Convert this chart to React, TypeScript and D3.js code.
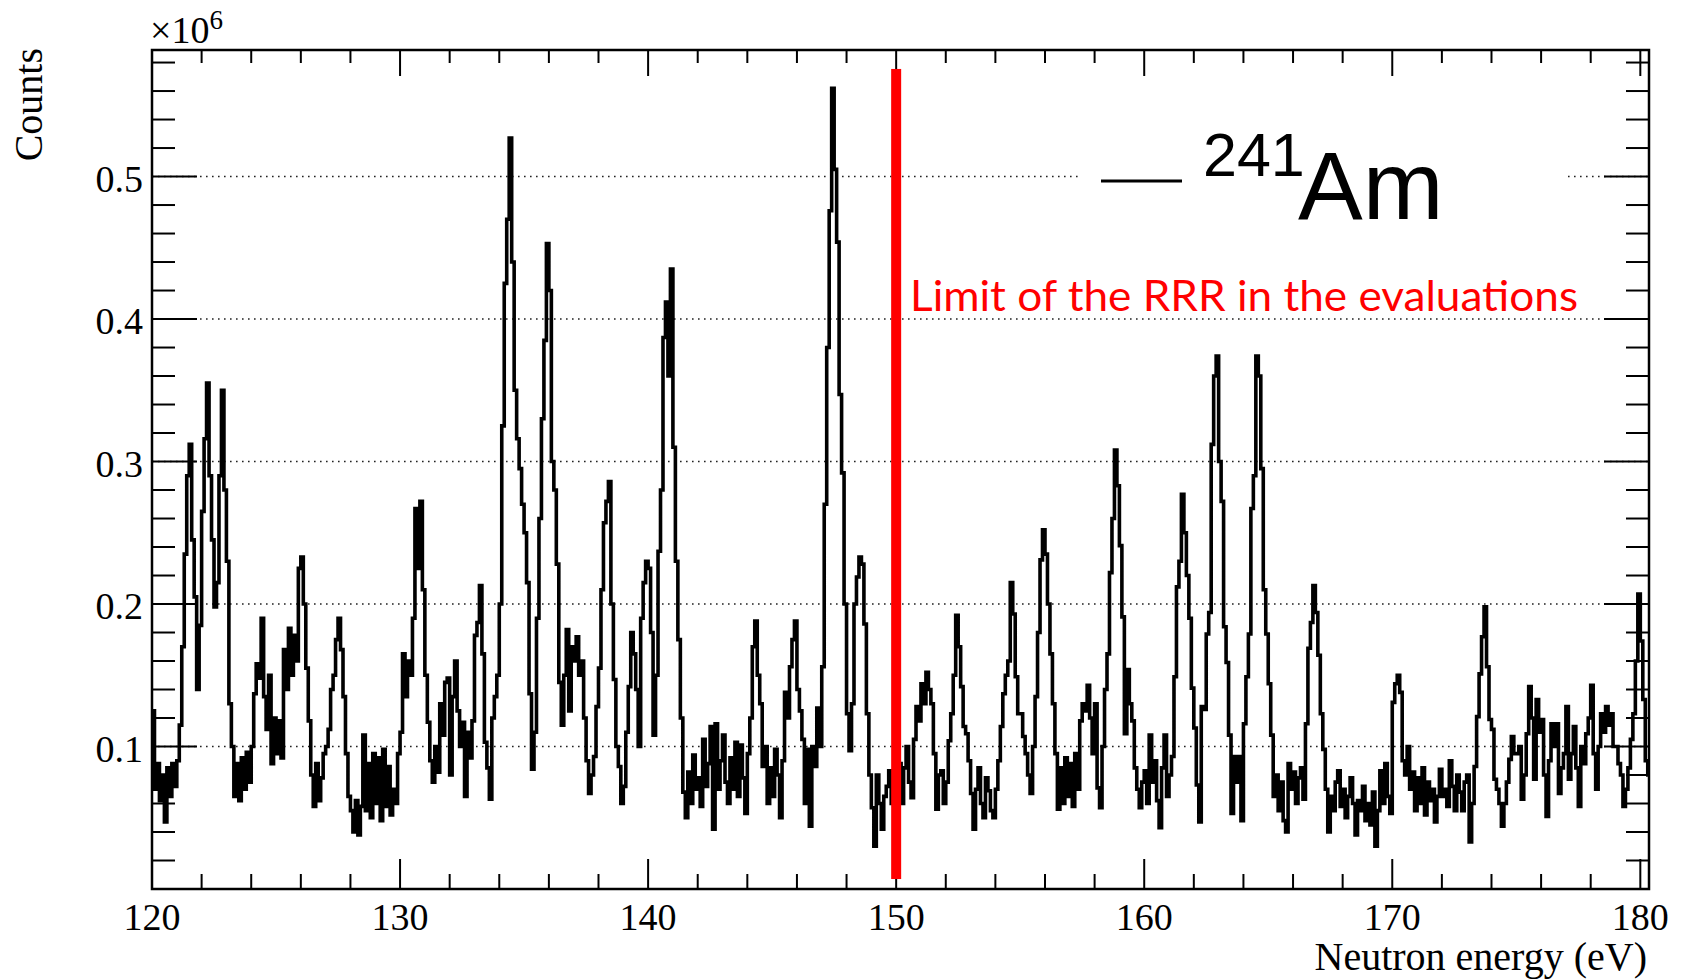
import React from "react";
import * as d3 from "d3";

// Histogram: neutron energy bins of 0.1 eV starting at 120 eV; counts in thousands
const E_START = 120;
const BIN_WIDTH = 0.1;

const counts120 = [
  125, 70, 88, 62, 80, 47, 85, 65, 88, 72,
  90, 115, 170, 235, 290, 312, 245, 205, 140, 185,
  265, 316, 355, 290, 245, 198, 215, 290, 350, 280,
  230, 130, 100, 65, 88, 62, 92, 70, 96, 75,
  100, 137, 158, 148, 190, 135, 112, 150, 88, 120,
  95, 118, 92, 168, 140, 183, 150, 178, 160, 225,
  233, 200, 155, 118, 80, 58, 88, 62, 78, 95,
  100, 112, 140, 150, 175, 190, 168, 135, 95, 65,
  55, 40, 62, 38, 58, 108, 55, 88, 50, 95,
  60, 92, 48, 98, 58, 86, 52, 70, 60, 95,
];
const counts130 = [
  110, 165, 135, 160, 150, 190, 267, 225, 272, 210,
  150, 117, 90, 75, 100, 82, 130, 108, 145, 148,
  80, 135, 160, 125, 100, 117, 65, 110, 92, 118,
  178, 187, 213, 165, 103, 85, 63, 120, 135, 150,
  200, 325, 425, 470, 527, 440, 350, 316, 295, 270,
  250, 215, 137, 84, 110, 190, 260, 330, 385, 453,
  420, 300, 280, 228, 145, 115, 150, 182, 125, 170,
  160, 177, 150, 160, 120, 90, 67, 80, 93, 128,
  155, 210, 257, 272, 286, 200, 147, 100, 86, 60,
  72, 110, 142, 180, 165, 140, 100, 190, 215, 230,
];
const counts140 = [
  225, 180, 108, 150, 237, 280, 387, 412, 360, 435,
  310, 230, 175, 120, 68, 50, 82, 60, 94, 70,
  78, 58, 105, 72, 88, 114, 42, 116, 70, 90,
  108, 75, 60, 92, 70, 103, 65, 101, 78, 53,
  95, 120, 170, 188, 150, 130, 86, 100, 60, 85,
  65, 98, 80, 50, 90, 138, 120, 156, 175, 188,
  140, 125, 105, 60, 98, 44, 100, 86, 127, 100,
  156, 270, 380, 476, 562, 505, 454, 347, 292, 200,
  123, 97, 130, 200, 219, 233, 228, 186, 123, 80,
  57, 30, 80, 60, 42, 65, 72, 83, 60, 75,
];
const counts150 = [
  70, 88, 60, 85, 100, 75, 64, 105, 128, 118,
  144, 130, 152, 140, 130, 95, 56, 80, 83, 60,
  75, 104, 123, 150, 192, 170, 142, 114, 109, 90,
  67, 42, 70, 85, 60, 50, 78, 69, 55, 50,
  70, 90, 114, 137, 150, 160, 215, 193, 149, 123,
  123, 107, 95, 80, 67, 100, 135, 180, 231, 252,
  235, 200, 165, 130, 95, 56, 85, 60, 92, 65,
  88, 58, 95, 70, 118, 130, 125, 143, 120, 95,
  130, 71, 57, 100, 140, 165, 222, 260, 308, 283,
  241, 191, 109, 154, 130, 118, 85, 70, 57, 75,
];
const counts160 = [
  83, 60, 108, 75, 90, 62, 43, 85, 108, 65,
  80, 93, 149, 212, 230, 277, 250, 220, 190, 141,
  113, 73, 47, 128, 126, 179, 194, 312, 360, 374,
  300, 272, 184, 159, 108, 53, 93, 75, 93, 48,
  116, 149, 179, 267, 290, 374, 360, 295, 210, 179,
  144, 108, 65, 80, 55, 75, 48, 40, 88, 70,
  82, 60, 78, 85, 63, 116, 169, 187, 213, 194,
  164, 123, 98, 70, 40, 65, 55, 75, 83, 58,
  70, 50, 65, 78, 60, 38, 62, 55, 72, 48,
  60, 45, 68, 30, 55, 83, 60, 88, 65, 53,
];
const counts170 = [
  131, 144, 150, 138, 90, 80, 100, 70, 82, 55,
  78, 60, 85, 52, 75, 62, 70, 47, 65, 84,
  65, 70, 58, 90, 72, 55, 80, 68, 55, 75,
  80, 33, 60, 86, 121, 151, 177, 198, 156, 119,
  112, 77, 70, 60, 44, 60, 75, 91, 107, 95,
  95, 100, 63, 80, 109, 142, 120, 77, 133, 110,
  119, 80, 51, 90, 116, 100, 116, 67, 85, 95,
  128, 77, 95, 114, 85, 58, 100, 88, 109, 120,
  143, 95, 70, 100, 123, 110, 128, 115, 123, 100,
  100, 88, 80, 58, 70, 85, 105, 123, 160, 207,
];
const counts180 = [174, 133, 90, 80];

const xMajorTicks = [120, 130, 140, 150, 160, 170, 180];
const xTickLabels = ["120", "130", "140", "150", "160", "170", "180"];
const yMajorTicks = [0.1, 0.2, 0.3, 0.4, 0.5];
const yTickLabels = ["0.1", "0.2", "0.3", "0.4", "0.5"];

const X_DOMAIN = [120, 180.35];
const Y_DOMAIN = [0, 0.5888];

const RRR_LIMIT = 150;
const RRR_LINE_Y = [0.007, 0.5755];
const annotationText = "Limit of the RRR in the evaluations";
const legendMass = "241";
const legendSymbol = "Am";

export default function App() {
  const W = 1681;
  const H = 980;
  const left = 152, right = 1649, top = 50, bottom = 889;

  const x = d3.scaleLinear().domain(X_DOMAIN).range([left, right]);
  const y = d3.scaleLinear().domain(Y_DOMAIN).range([bottom, top]);

  const all = [...counts120, ...counts130, ...counts140, ...counts150, ...counts160, ...counts170, ...counts180];
  const pts: [number, number][] = all.map((c, i) => [E_START + i * BIN_WIDTH, c / 1000]);
  pts.push([E_START + all.length * BIN_WIDTH, all[all.length - 1] / 1000]);

  const line = d3
    .line<[number, number]>()
    .x((d) => x(d[0]))
    .y((d) => y(d[1]))
    .curve(d3.curveStepAfter);

  const xMinor = d3.range(120, 180.01, 2).filter((v) => Math.abs(v % 10) > 0.01);
  const yMinor = d3.range(0.02, 0.5801, 0.02).filter((v) => Math.abs(Math.round(v * 10) - v * 10) > 0.001);

  const serif = "'Liberation Serif', 'Times New Roman', serif";
  const sans = "'Liberation Sans', Arial, sans-serif";
  const axisW = 2.5;

  return (
    <svg
      width={W}
      height={H}
      viewBox={`0 0 ${W} ${H}`}
      style={{ position: "absolute", left: 0, top: 0, display: "block", background: "#fff" }}
    >
      <defs>
        <clipPath id="frameClip">
          <rect x={left} y={top} width={right - left} height={bottom - top} />
        </clipPath>
      </defs>
      <rect x={0} y={0} width={W} height={H} fill="#fff" />

      {/* grid */}
      {yMajorTicks.map((v) => (
        <line
          key={"g" + v}
          x1={left}
          x2={right}
          y1={y(v)}
          y2={y(v)}
          stroke="#222"
          strokeWidth={1.6}
          strokeDasharray="1.6 4.4"
        />
      ))}

      {/* histogram */}
      <path
        d={line(pts) || ""}
        fill="none"
        stroke="#000"
        strokeWidth={3.6}
        strokeLinejoin="miter"
        clipPath="url(#frameClip)"
      />

      {/* frame */}
      <rect x={left} y={top} width={right - left} height={bottom - top} fill="none" stroke="#000" strokeWidth={axisW} />

      {/* x ticks bottom & top */}
      {xMajorTicks.map((v) => (
        <g key={"xM" + v}>
          <line x1={x(v)} x2={x(v)} y1={bottom} y2={bottom - 30} stroke="#000" strokeWidth={2} />
          <line x1={x(v)} x2={x(v)} y1={top} y2={top + 26} stroke="#000" strokeWidth={2} />
        </g>
      ))}
      {xMinor.map((v) => (
        <g key={"xm" + v}>
          <line x1={x(v)} x2={x(v)} y1={bottom} y2={bottom - 15} stroke="#000" strokeWidth={2} />
          <line x1={x(v)} x2={x(v)} y1={top} y2={top + 13} stroke="#000" strokeWidth={2} />
        </g>
      ))}

      {/* y ticks left & right */}
      {yMajorTicks.map((v) => (
        <g key={"yM" + v}>
          <line x1={left} x2={left + 45} y1={y(v)} y2={y(v)} stroke="#000" strokeWidth={2} />
          <line x1={right} x2={right - 45} y1={y(v)} y2={y(v)} stroke="#000" strokeWidth={2} />
        </g>
      ))}
      {yMinor.map((v) => (
        <g key={"ym" + v}>
          <line x1={left} x2={left + 23} y1={y(v)} y2={y(v)} stroke="#000" strokeWidth={2} />
          <line x1={right} x2={right - 23} y1={y(v)} y2={y(v)} stroke="#000" strokeWidth={2} />
        </g>
      ))}

      {/* tick labels */}
      {xMajorTicks.map((v, i) => (
        <text key={"xl" + v} x={x(v)} y={930} textAnchor="middle" fontFamily={serif} fontSize={38} fill="#000">
          {xTickLabels[i]}
        </text>
      ))}
      {yMajorTicks.map((v, i) => (
        <text key={"yl" + v} x={143} y={y(v) + 15} textAnchor="end" fontFamily={serif} fontSize={38} fill="#000">
          {yTickLabels[i]}
        </text>
      ))}

      {/* axis titles */}
      <text x={1647} y={970} textAnchor="end" fontFamily={serif} fontSize={40} fill="#000">
        Neutron energy (eV)
      </text>
      <text transform="translate(42,48) rotate(-90)" textAnchor="end" fontFamily={serif} fontSize={40} fill="#000">
        Counts
      </text>
      <text x={150} y={43} fontFamily={serif} fontSize={38} fill="#000">
        ×10
        <tspan dy={-14} fontSize={27}>6</tspan>
      </text>

      {/* RRR limit */}
      <rect
        x={x(RRR_LIMIT) - 5}
        y={y(RRR_LINE_Y[1])}
        width={10}
        height={y(RRR_LINE_Y[0]) - y(RRR_LINE_Y[1])}
        fill="#ff0000"
      />

      {/* legend */}
      <rect x={1082} y={120} width={483} height={125} fill="#fff" />
      <line x1={1101} x2={1182} y1={181} y2={181} stroke="#000" strokeWidth={3} />
      <text x={1203} y={176} fontFamily={sans} fontSize={61} fill="#000">
        {legendMass}
      </text>
      <text x={1298} y={219} fontFamily={sans} fontSize={97} fill="#000">
        {legendSymbol}
      </text>

      <text
        x={910}
        y={311}
        fontFamily="Lato, 'Open Sans', sans-serif"
        fontSize={43}
        fill="#ff0000"
        textLength={668}
        lengthAdjust="spacingAndGlyphs"
      >
        {annotationText}
      </text>
    </svg>
  );
}
